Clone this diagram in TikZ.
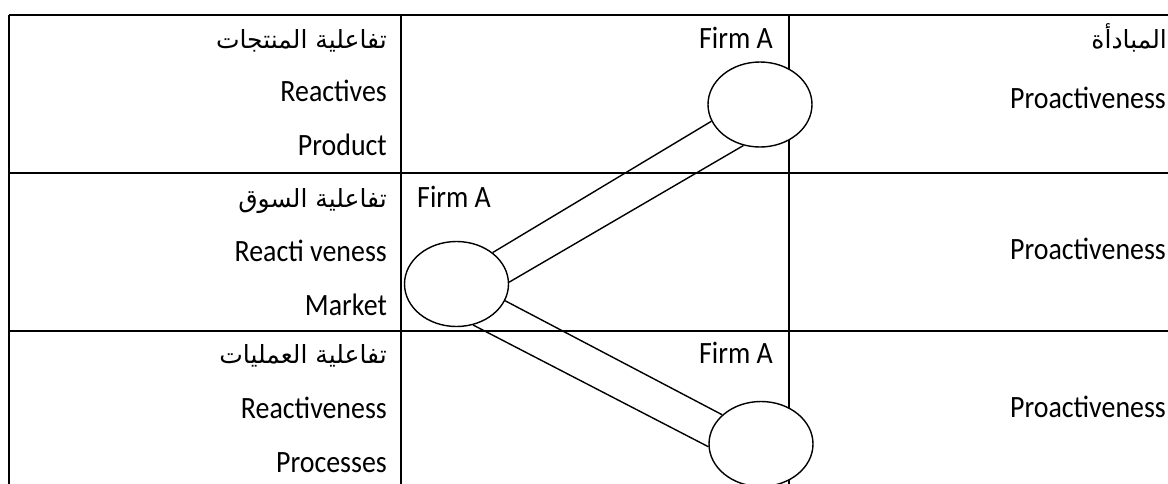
\documentclass[tikz,border=0pt]{standalone}
\usepackage{fontspec}
\setmainfont{Carlito}[FakeStretch=0.9]
\newfontfamily\arabicfont[Script=Arabic]{DejaVu Sans}
\TeXXeTstate=1
\usetikzlibrary{shapes.geometric}
\begin{document}
\begin{tikzpicture}[x=1pt,y=-1pt,
  grid/.style={line width=1.9pt},
  lbl/.style={font=\fontsize{31}{31}\selectfont, inner sep=0pt},
  ar/.style={font=\fontsize{25}{25}\selectfont\arabicfont, inner sep=0pt},
  firm/.style={draw, fill=white, ellipse, line width=1.4pt, minimum width=104pt, minimum height=85pt, inner sep=0pt},
  link/.style={line width=1.4pt}]
\useasboundingbox (0,0) rectangle (1168,483);
\clip (0,0) rectangle (1168,483);

% table rules
\draw[grid] (9,15) -- (1170,15);
\draw[grid] (9,173) -- (1170,173);
\draw[grid] (9,331) -- (1170,331);
\draw[grid] (9,15) -- (9,490);
\draw[grid] (401,15) -- (401,490);
\draw[grid] (789,15) -- (789,490);

% left column
\node[ar, anchor=base east] (ar1) at (387,48) {\beginR تفاعلية المنتجات\endR};
\node[lbl, anchor=base east] (r1) at (387,101) {Reactives};
\node[lbl, anchor=base east] (p1) at (387,155) {Product};
\node[ar, anchor=base east] (ar2) at (387,207) {\beginR تفاعلية السوق\endR};
\node[lbl, anchor=base east] (r2) at (387,261) {Reacti veness};
\node[lbl, anchor=base east] (p2) at (387,315) {Market};
\node[ar, anchor=base east] (ar3) at (387,363) {\beginR تفاعلية العمليات\endR};
\node[lbl, anchor=base east] (r3) at (387,418) {Reactiveness};
\node[lbl, anchor=base east] (p3) at (387,472) {Processes};

% right column
\node[ar, anchor=base east] (ar4) at (1167,48) {\beginR المبادأة\endR};
\node[lbl, anchor=base east] (q1) at (1166,108) {Proactiveness};
\node[lbl, anchor=base east] (q2) at (1166,259) {Proactiveness};
\node[lbl, anchor=base east] (q3) at (1166,417) {Proactiveness};

% firm labels
\node[lbl, anchor=base east] (fa1) at (773,48) {Firm A};
\node[lbl, anchor=base west] (fa2) at (417,207) {Firm A};
\node[lbl, anchor=base east] (fa3) at (773,363) {Firm A};

% firm positions, filled so they sit over the column rules
\node[firm] (e1) at (760,104.5) {};
\node[firm] (e2) at (456.5,284) {};
\node[firm] (e3) at (761,444) {};

% double links
\draw[link] (e2.41) -- (e1.-161);
\draw[link] (e2.2) -- (e1.-112);
\draw[link] (e2.-19) -- (e3.143.6);
\draw[link] (e2.-68) -- (e3.183);
\end{tikzpicture}
\end{document}
